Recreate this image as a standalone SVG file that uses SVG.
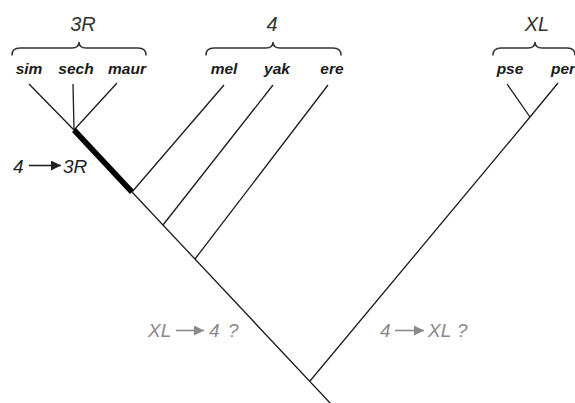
<svg xmlns="http://www.w3.org/2000/svg" width="575" height="403" viewBox="0 0 575 403">
<defs>
<style>
.br{fill:none;stroke:#333;stroke-width:1.5;stroke-linecap:round}
.ln{fill:none;stroke:#1a1a1a;stroke-width:1.3;stroke-linecap:butt}
.thick{fill:none;stroke:#000;stroke-width:5.5}
.sp{font-family:"Liberation Sans",Arial,sans-serif;font-size:15.5px;font-weight:bold;font-style:italic;fill:#1a1a1a;text-anchor:middle}
.cl{font-family:"Liberation Sans",Arial,sans-serif;font-size:20px;font-style:italic;fill:#333;text-anchor:middle}
.ev{font-family:"Liberation Sans",Arial,sans-serif;font-size:19px;font-style:italic;fill:#222}
.evg{font-family:"Liberation Sans",Arial,sans-serif;font-size:19px;font-style:italic;fill:#8a8a8a}
.ar{stroke:#222;stroke-width:1.6}
.arg{stroke:#8a8a8a;stroke-width:1.6}
</style>
<marker id="hk" markerUnits="userSpaceOnUse" markerWidth="12" markerHeight="10" refX="10" refY="5" orient="auto"><path d="M0,0 L10,5 L0,10 z" fill="#222"/></marker>
<marker id="hg" markerUnits="userSpaceOnUse" markerWidth="12" markerHeight="10" refX="10" refY="5" orient="auto"><path d="M0,0 L10,5 L0,10 z" fill="#8a8a8a"/></marker>
</defs>
<rect width="575" height="403" fill="#fff"/>

<g id="clade-3R">
<path class="br" d="M12,55 Q12,48 20,48 L72,48 Q79,48 79,42 Q79,48 86,48 L138,48 Q146,48 146,55"/>
<text class="cl" x="83" y="31">3R</text>
</g>
<g id="clade-4">
<path class="br" d="M206,55 Q206,48 214,48 L266,48 Q273,48 273,42 Q273,48 280,48 L333,48 Q341,48 341,55"/>
<text class="cl" x="272" y="31">4</text>
</g>
<g id="clade-XL">
<path class="br" d="M493,55 Q493,48 501,48 L528,48 Q535,48 535,42 Q535,48 542,48 L567,48 Q575,48 575,55"/>
<text class="cl" x="537" y="31">XL</text>
</g>

<g id="sim"><text class="sp" x="29" y="74">sim</text></g>
<g id="sech"><text class="sp" x="76" y="74">sech</text></g>
<g id="maur"><text class="sp" x="127" y="74">maur</text></g>
<g id="mel"><text class="sp" x="224" y="74">mel</text></g>
<g id="yak"><text class="sp" x="277" y="74">yak</text></g>
<g id="ere"><text class="sp" x="332" y="74">ere</text></g>
<g id="pse"><text class="sp" x="510" y="74">pse</text></g>
<g id="per"><text class="sp" x="563" y="74">per</text></g>

<g id="connectors">
<path class="ln" d="M29,84 L74,130"/>
<path class="ln" d="M73,84 L74,130"/>
<path class="ln" d="M117,83 L74,130"/>
<path class="thick" d="M74,130 L132,192"/>
<path class="ln" d="M132,192 L332,405"/>
<path class="ln" d="M224,85 L132,192"/>
<path class="ln" d="M273,85 L163,225"/>
<path class="ln" d="M328,85 L195,259"/>
<path class="ln" d="M507,84 L530,117"/>
<path class="ln" d="M558,83 L530,117"/>
<path class="ln" d="M530,117 L310,381"/>
</g>

<g id="event-4-3R">
<text class="ev" x="13" y="173">4</text>
<line class="ar" x1="29" y1="165.5" x2="61" y2="165.5" marker-end="url(#hk)"/>
<text class="ev" x="63" y="173">3R</text>
</g>
<g id="event-XL-4">
<text class="evg" x="148" y="337">XL</text>
<line class="arg" x1="176" y1="330.5" x2="204" y2="330.5" marker-end="url(#hg)"/>
<text class="evg" x="209" y="337">4</text>
<text class="evg" x="228" y="337">?</text>
</g>
<g id="event-4-XL">
<text class="evg" x="380" y="337">4</text>
<line class="arg" x1="395" y1="330.5" x2="424" y2="330.5" marker-end="url(#hg)"/>
<text class="evg" x="428" y="337">XL</text>
<text class="evg" x="457" y="337">?</text>
</g>
</svg>
